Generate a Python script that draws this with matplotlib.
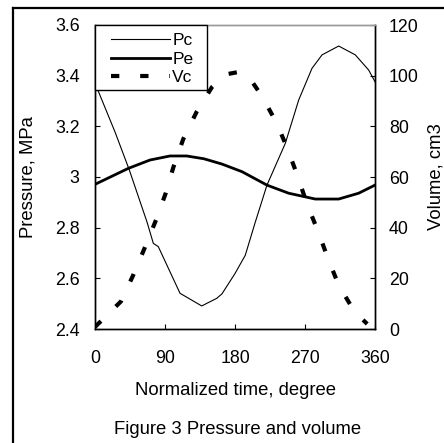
import matplotlib
matplotlib.use("Agg")
import numpy as np
import matplotlib.pyplot as plt
from matplotlib.lines import Line2D
from matplotlib.patches import Rectangle
from matplotlib.legend_handler import HandlerLine2D

plt.rcParams['font.family'] = ['Liberation Sans', 'DejaVu Sans']

# Pc (thin line), pressure MPa
pc_deg = [0, 2.6, 25.7, 44.1, 66.9, 75, 81.4, 109.3, 137.2, 156.5, 163.3, 180, 193.2,
          206.1, 221.1, 244.7, 261.9, 279, 291.9, 313.3, 334.7, 351.9, 360]
pc_val = [3.36, 3.351, 3.178, 3.028, 2.822, 2.738, 2.725, 2.541, 2.491, 2.521, 2.539, 2.619, 2.691,
          2.822, 2.968, 3.133, 3.304, 3.429, 3.482, 3.517, 3.482, 3.422, 3.376]

# Pe (thick line), pressure MPa
pe_deg = [0, 42.8, 70.7, 96.4, 117.9, 140, 163.3, 189, 221.1, 249, 283.2, 313.3, 339, 360]
pe_val = [2.971, 3.034, 3.067, 3.083, 3.083, 3.072, 3.051, 3.021, 2.968, 2.936, 2.913, 2.913, 2.936, 2.968]

# Vc (dashed), volume cm3
vc_deg = [0, 33.4, 49.2, 64.3, 78.4, 90.9, 100.7, 113.5, 130.8, 150.4, 168, 185.5, 200,
          215.1, 233.7, 248.1, 261, 272.6, 286.7, 299.6, 313.3, 333.9, 350]
vc_val = [0.8, 10.9, 21.3, 32.3, 43.0, 53.6, 63.8, 75.0, 85.8, 95.5, 100.5, 101.5, 98.5,
          91.7, 81.2, 70.7, 59.9, 49.3, 38.6, 27.8, 17.3, 6.7, 2.0]

xticks = [0, 90, 180, 270, 360]
lticks = [2.4, 2.6, 2.8, 3.0, 3.2, 3.4, 3.6]
lticklabels = ["2.4", "2.6", "2.8", "3", "3.2", "3.4", "3.6"]
rticks = [0, 20, 40, 60, 80, 100, 120]

FS_T = 12.8
FS_L = 13.3
FS_LEG = 12.5

fig = plt.figure(figsize=(4.44, 4.43), dpi=100)
ax = fig.add_axes([95/444, 1-329/443, 280/444, 304/443])
ax2 = ax.twinx()

l1, = ax.plot(pc_deg, pc_val, color='black', lw=0.8, label='Pc')
l2, = ax.plot(pe_deg, pe_val, color='black', lw=2.0, label='Pe')
l3, = ax2.plot(vc_deg, vc_val, color='black', lw=3.0, linestyle=(0, (2, 5)), label='Vc')

ax.set_xlim(0, 360)
ax.set_ylim(2.4, 3.6)
ax2.set_ylim(0, 120)
ax.set_xticks(xticks)
ax.set_xticklabels([str(t) for t in xticks])
ax.set_yticks(lticks)
ax.set_yticklabels(lticklabels)
ax2.set_yticks(rticks)
ax2.set_yticklabels([str(t) for t in rticks])

for a in (ax, ax2):
    a.tick_params(direction='in', length=3.6, width=0.8, labelsize=FS_T, color='black')
    for s in a.spines.values():
        s.set_linewidth(1.0)
        s.set_color('black')
    a.spines['top'].set_color('#999999')
ax.tick_params(axis='x', pad=15)
ax.tick_params(axis='y', pad=11)
ax2.tick_params(axis='y', pad=10)

ax.set_xlabel('Normalized time, degree', fontsize=FS_L, va='center')
ax.xaxis.set_label_coords(0.5, -(390-329)/304)
ax.set_ylabel('Pressure, MPa', fontsize=FS_L, va='center')
ax.yaxis.set_label_coords((28-95)/280, 0.5)
ax2.set_ylabel('Volume, cm3', fontsize=FS_L, va='center')
ax2.yaxis.set_label_coords((436-95)/280, 0.5)


class InsetHandler(HandlerLine2D):
    def get_xdata(self, legend, xdescent, ydescent, width, height, fontsize):
        x0 = -xdescent + 0.12*width
        x1 = -xdescent + width
        return np.array([x0, x1]), np.array([x0, x1])


# legend frame
ax2.add_patch(Rectangle((0, 1-(90-25)/304), (207-95)/280, (90-25)/304, transform=ax2.transAxes,
                        facecolor='white', edgecolor='black', lw=1.0, zorder=4.5, clip_on=False))
h = InsetHandler()
leg = ax2.legend(handles=[l1, l2, l3], loc='upper left', bbox_to_anchor=(0, 1),
                 borderaxespad=0, fontsize=FS_LEG, frameon=False,
                 handlelength=3.85, handletextpad=0.15, labelspacing=0.2,
                 borderpad=0.45, handler_map={l1: h, l2: h, l3: h})

fig.text(238/444, 1-430/443, 'Figure 3 Pressure and volume', ha='center', va='center', fontsize=FS_L)

# outer frame (left and top edges visible)
fig.add_artist(Line2D([13/444, 13/444], [0, 1-8/443], transform=fig.transFigure, color='black', lw=1.6))
fig.add_artist(Line2D([13/444, 1], [1-8/443, 1-8/443], transform=fig.transFigure, color='black', lw=1.6))

fig.savefig('out.png', dpi=100)
